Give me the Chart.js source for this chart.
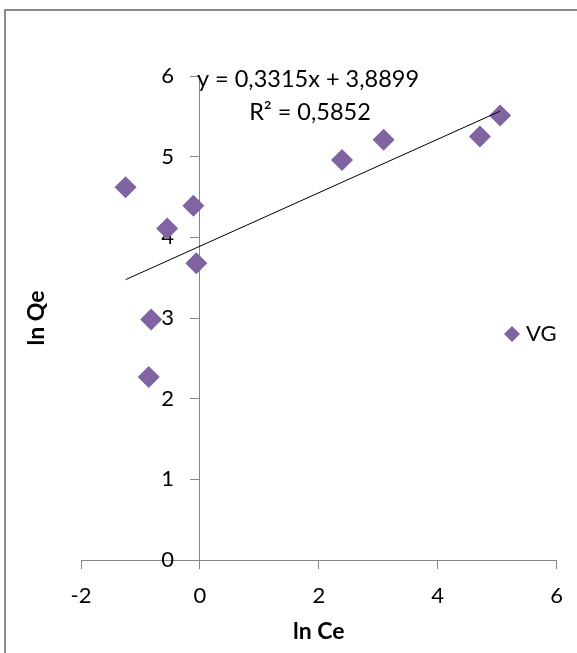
<!DOCTYPE html>
<html>
<head>
<meta charset="utf-8">
<script src="https://cdn.jsdelivr.net/npm/chart.js@4/dist/chart.umd.min.js"></script>
<style>
  html, body { margin: 0; padding: 0; background: #fff; overflow: hidden; }
  #wrap { position: relative; width: 577px; height: 653px; }
  #frame { position: absolute; left: 4px; top: 9px; width: 620px; height: 720px;
           border: 2px solid #8c8c8c; box-sizing: border-box; pointer-events: none; }
  canvas { position: absolute; left: 0; top: 0; }
</style>
</head>
<body>
<div id="wrap">
  <canvas id="chart" width="577" height="653"></canvas>
  <div id="frame"></div>
</div>
<script>
// Series: ln Ce vs ln Qe
const seriesName = 'VG';
const lnCe = [-1.25, -0.86, -0.82, -0.55, -0.11, -0.06, 2.39, 3.09, 4.71, 5.05];
const lnQe = [4.62, 2.27, 2.98, 4.11, 4.39, 3.68, 4.96, 5.21, 5.25, 5.51];

// Axis ranges and tick steps
const xRange = [-2, 6];
const xStep = 2;
const yRange = [0, 6];
const yStep = 1;

// Linear trendline coefficients
const trendSlope = 0.3315;
const trendIntercept = 3.8899;
const trendR2 = 0.5852;

const axisTitleX = 'ln Ce';
const axisTitleY = 'ln Qe';

const PURPLE = '#8064A2';
const AXIS = '#868686';
const FONT = 'Lato, "Liberation Sans", sans-serif';

const fmt = v => String(v).replace('.', ',');

const xMin = Math.min(...lnCe), xMax = Math.max(...lnCe);
const trendPoints = [xMin, xMax].map(x => ({ x, y: trendIntercept + trendSlope * x }));

// Pull the y tick labels away from the crossing axis line
const yLabelShift = {
  id: 'yLabelShift',
  beforeDraw(chart) {
    const s = chart.scales.y;
    if (!s._shifted) {
      const orig = s._computeLabelItems;
      s._computeLabelItems = function (ca) {
        const items = orig.call(this, ca);
        items.forEach(it => { it.options.translation[0] -= 26; });
        return items;
      };
      s._shifted = true;
      s._labelItems = null;
    }
  }
};

// Rotated y title, trendline equation and legend entry
const annotations = {
  id: 'annotations',
  afterDraw(chart) {
    const { ctx, chartArea } = chart;
    ctx.save();
    ctx.fillStyle = '#000';

    ctx.save();
    ctx.translate(37, (chartArea.top + chartArea.bottom) / 2);
    ctx.rotate(-Math.PI / 2);
    ctx.font = 'bold 23px ' + FONT;
    ctx.textAlign = 'center';
    ctx.textBaseline = 'middle';
    ctx.fillText(axisTitleY, 0, 0);
    ctx.restore();

    ctx.font = '23.5px ' + FONT;
    ctx.textAlign = 'center';
    ctx.textBaseline = 'middle';
    ctx.fillText('y = ' + fmt(trendSlope) + 'x + ' + fmt(trendIntercept), 308, 79);
    ctx.fillText('R\u00B2 = ' + fmt(trendR2), 310, 112);

    // legend entry
    ctx.font = '22px ' + FONT;
    const lx = 512, ly = 334, r = 8;
    ctx.fillStyle = PURPLE;
    ctx.beginPath();
    ctx.moveTo(lx - r, ly);
    ctx.lineTo(lx, ly - r);
    ctx.lineTo(lx + r, ly);
    ctx.lineTo(lx, ly + r);
    ctx.closePath();
    ctx.fill();
    ctx.fillStyle = '#000';
    ctx.textAlign = 'left';
    ctx.fillText(chart.data.datasets[0].label, 526, ly);
    ctx.restore();
  }
};

new Chart(document.getElementById('chart'), {
  type: 'scatter',
  data: {
    datasets: [
      {
        label: seriesName,
        data: lnCe.map((x, i) => ({ x, y: lnQe[i] })),
        pointStyle: 'rectRot',
        pointRadius: 11,
        pointHoverRadius: 11,
        backgroundColor: PURPLE,
        borderWidth: 0,
        order: 1
      },
      {
        label: 'Linear (' + seriesName + ')',
        type: 'line',
        data: trendPoints,
        borderColor: '#000',
        borderWidth: 1,
        pointRadius: 0,
        fill: false,
        order: 0
      }
    ]
  },
  options: {
    responsive: false,
    animation: false,
    events: [],
    layout: { padding: { left: 81, right: 19, top: 76, bottom: 0 } },
    plugins: { legend: { display: false }, tooltip: { enabled: false } },
    scales: {
      x: {
        type: 'linear',
        position: 'bottom',
        min: xRange[0], max: xRange[1],
        ticks: { stepSize: xStep, color: '#000', font: { family: FONT, size: 22 }, padding: 14 },
        grid: { drawOnChartArea: false, color: AXIS, tickLength: 9 },
        border: { color: AXIS, width: 1 },
        title: { display: true, text: axisTitleX, color: '#000',
                 font: { family: FONT, size: 23, weight: 'bold' }, padding: { top: 0, bottom: 8 } },
        afterFit(s) { s.height = 93; }
      },
      y: {
        type: 'linear',
        position: { x: 0 },
        min: yRange[0], max: yRange[1],
        ticks: { stepSize: yStep, color: '#000', font: { family: FONT, size: 22 } },
        grid: { drawOnChartArea: false, color: AXIS, tickLength: 9 },
        border: { color: AXIS, width: 1 }
      }
    }
  },
  plugins: [yLabelShift, annotations]
});
</script>
</body>
</html>
